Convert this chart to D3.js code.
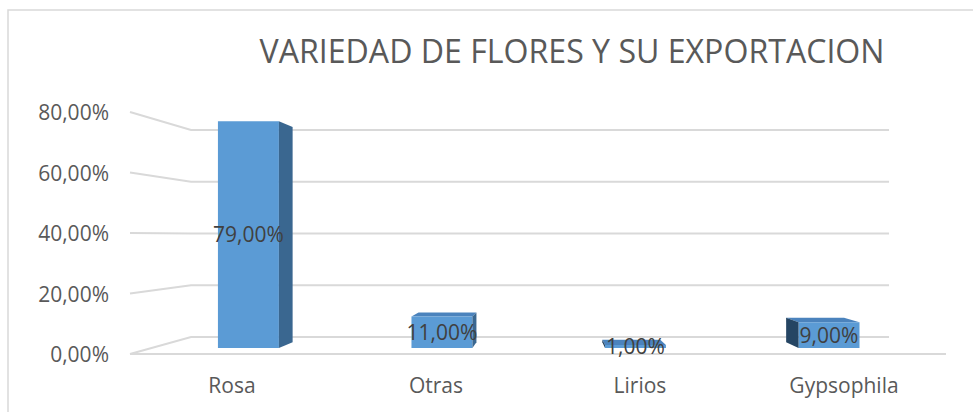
<!DOCTYPE html>
<html>
<head>
<meta charset="utf-8">
<script src="https://cdn.jsdelivr.net/npm/d3@7"></script>
<style>
  html, body { margin: 0; padding: 0; background: #fff; }
  svg { display: block; font-family: "Open Sans", sans-serif; }
</style>
</head>
<body>
<div id="paper"></div>
<script>
// data
const title = "VARIEDAD DE FLORES Y SU EXPORTACION";
const categories = ["Rosa", "Otras", "Lirios", "Gypsophila"];
const values = [0.79, 0.11, 0.01, 0.09];
const ticks = [0, 0.2, 0.4, 0.6, 0.8];

const width = 973, height = 412;

// es locale: comma decimal
const loc = d3.formatLocale({decimal: ",", thousands: ".", grouping: [3], currency: ["", "€"]});
const pct = loc.format(".2%");

// front plane of the 3d box
const x = d3.scaleBand().domain(categories).range([130, 946]);
const y = d3.scaleLinear().domain([0, 0.8]).range([354, 112]);

// one-point perspective: vanishing point and depth factor
const vp = [552, 236.5];
const k = 0.169;
let proj = (px, py, d) => {
  let s = 1 / (1 + k * d);
  return [vp[0] + s * (px - vp[0]), vp[1] + s * (py - vp[1])];
};
const d0 = 0.32, d1 = 0.65; // bar depth span
const barW = x.bandwidth() * 0.315;

const svg = d3.select("#paper").append("svg")
  .attr("width", width)
  .attr("height", height);

// chart border
svg.append("rect")
  .attr("x", 8).attr("y", 10)
  .attr("width", 1000).attr("height", 500)
  .attr("fill", "none")
  .attr("stroke", "#d9d9d9")
  .attr("stroke-width", 1.5);

// title
svg.append("text")
  .attr("x", 572).attr("y", 63)
  .attr("text-anchor", "middle")
  .attr("fill", "#595959")
  .attr("font-size", 32)
  .attr("textLength", 625)
  .attr("lengthAdjust", "spacingAndGlyphs")
  .text(title);

// gridlines: left wall + back wall
const [x0, x1] = x.range();
const grid = svg.append("g")
  .attr("fill", "none")
  .attr("stroke", "#d9d9d9")
  .attr("stroke-width", 2);

grid.selectAll("path")
  .data(ticks)
  .join("path")
  .attr("d", t => {
    let a = [x0, y(t)];
    let b = proj(x0, y(t), 1);
    let c = proj(x1, y(t), 1);
    return d3.line()([a, b, c]);
  });

// floor front edge
grid.append("path")
  .attr("d", d3.line()([[x0, y(0)], [x1, y(0)]]));

// y tick labels
svg.append("g")
  .attr("fill", "#595959")
  .attr("font-size", 21)
  .attr("text-anchor", "end")
  .selectAll("text")
  .data(ticks)
  .join("text")
  .attr("x", 109)
  .attr("y", t => y(t) + 8)
  .text(t => pct(t));

// category labels
svg.append("g")
  .attr("fill", "#595959")
  .attr("font-size", 21)
  .attr("text-anchor", "middle")
  .selectAll("text")
  .data(categories)
  .join("text")
  .attr("x", c => x(c) + x.bandwidth() / 2)
  .attr("y", 393)
  .text(c => c);

// bars
const colFront = "#5b9bd5", colRight = "#3a6790", colLeft = "#254563", colTop = "#4b83bd";
const bars = svg.append("g");

categories.forEach((c, i) => {
  let v = values[i];
  let cx = x(c) + x.bandwidth() / 2;
  let L = cx - barW / 2, R = cx + barW / 2;
  let B = y(0), T = y(v);
  let g = bars.append("g");
  let poly = (pts, col) => g.append("path")
    .attr("d", d3.line()(pts) + "Z")
    .attr("fill", col);

  if (T > vp[1])
    poly([proj(L, T, d0), proj(R, T, d0), proj(R, T, d1), proj(L, T, d1)], colTop);

  poly([proj(L, B, d0), proj(R, B, d0), proj(R, T, d0), proj(L, T, d0)], colFront);

  let fl = proj(L, B, d0), fr = proj(R, T, d0);
  let lab = () => g.append("text")
    .attr("x", proj(cx, T, d0)[0])
    .attr("y", (proj(cx, T, d0)[1] + proj(cx, B, d0)[1]) / 2)
    .attr("dy", "0.36em")
    .attr("text-anchor", "middle")
    .attr("font-size", 21)
    .attr("fill", "#404040")
    .text(pct(v));

  if (R < vp[0]) {
    poly([proj(R, B, d0), proj(R, B, d1), proj(R, T, d1), proj(R, T, d0)], colRight);
    lab();
  } else {
    lab();
    if (L > vp[0])
      poly([proj(L, B, d0), proj(L, B, d1), proj(L, T, d1), proj(L, T, d0)], colLeft);
  }
});
</script>
</body>
</html>
